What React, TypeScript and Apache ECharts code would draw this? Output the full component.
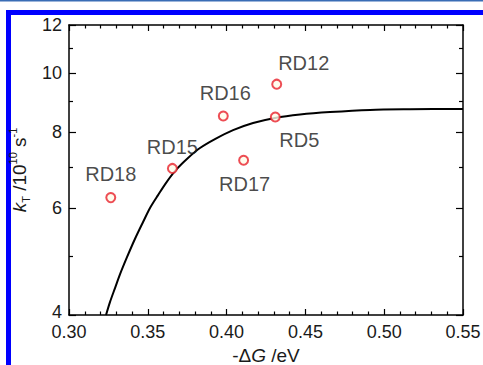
import React, { useEffect, useRef } from 'react';
import * as echarts from 'echarts';

// ---- data ----
const pointNames = ['RD18', 'RD15', 'RD16', 'RD17', 'RD12', 'RD5'];
const pointX = [0.3265, 0.3656, 0.3979, 0.4108, 0.4318, 0.4309];
const pointY = [6.24, 6.97, 8.5, 7.19, 9.59, 8.47];

const curveX = [0.3235, 0.326, 0.3292, 0.3324, 0.3368, 0.3419, 0.347, 0.3514, 0.3565, 0.3616, 0.3679, 0.3755, 0.3831, 0.3926, 0.4041, 0.4168, 0.4307, 0.4466, 0.4656, 0.491, 0.5164, 0.55];
const curveY = [4.0, 4.2, 4.43, 4.67, 4.98, 5.34, 5.69, 6.0, 6.3, 6.6, 6.93, 7.25, 7.53, 7.79, 8.06, 8.28, 8.44, 8.55, 8.63, 8.7, 8.72, 8.73];

const xMin = 0.3;
const xMax = 0.55;
const xInterval = 0.05;
const yMajorTicks = [4, 6, 8, 10, 12];
const yMinorTicks = [5, 7, 9, 11];

// label placement (style, not data)
const labelOffsets: Record<string, [number, number]> = {
  RD18: [0, -24],
  RD15: [0, -21],
  RD16: [2, -23],
  RD17: [1, 24],
  RD12: [27, -21],
  RD5: [24, 23],
};

const FONT = '"Liberation Sans", Arial, Helvetica, sans-serif';
const TXT = '#1a1a1a';

export default function App() {
  const ref = useRef<HTMLDivElement>(null);

  useEffect(() => {
    if (!ref.current) return;
    const chart = echarts.init(ref.current, undefined, { renderer: 'svg' });
    const lg = (v: number) => Math.log10(v);
    const yMin = lg(yMajorTicks[0]);
    const yMax = lg(yMajorTicks[yMajorTicks.length - 1]);
    const axisLine = { show: true, lineStyle: { color: '#000', width: 1.5 } };

    const xBase = {
      type: 'value' as const,
      min: xMin,
      max: xMax,
      interval: xInterval,
      splitLine: { show: false },
      axisLine,
      axisTick: { show: true, inside: true, length: 6, lineStyle: { color: '#000', width: 1.2 } },
      minorTick: { show: true, splitNumber: 5, length: 3.5, lineStyle: { color: '#000', width: 1.2 } },
    };
    const yBase = {
      type: 'value' as const,
      min: yMin,
      max: yMax,
      splitLine: { show: false },
    };

    chart.setOption({
      animation: false,
      backgroundColor: '#fff',
      textStyle: { fontFamily: FONT },
      grid: { left: 69, right: 20, top: 25, bottom: 50, containLabel: false, outerBoundsMode: 'none' },
      graphic: [
        { type: 'rect', shape: { x: 0, y: 0, width: 483, height: 1.5 }, style: { fill: '#3a6db5' } },
        { type: 'rect', shape: { x: 6, y: 10, width: 477, height: 5 }, style: { fill: '#0000ff' } },
        { type: 'rect', shape: { x: 6, y: 10, width: 5, height: 355 }, style: { fill: '#0000ff' } },
      ],
      xAxis: [
        {
          ...xBase,
          position: 'bottom',
          name: '{n|-Δ}{i|G}{n| /eV}',
          nameLocation: 'middle',
          nameGap: 29,
          nameTextStyle: {
            rich: {
              n: { fontSize: 19, color: TXT, fontFamily: FONT },
              i: { fontSize: 19, color: TXT, fontStyle: 'italic', fontFamily: FONT },
            },
          },
          axisLabel: {
            show: true,
            fontSize: 18,
            color: TXT,
            margin: 8,
            formatter: (v: number) => v.toFixed(2),
          },
        },
        {
          ...xBase,
          position: 'top',
          axisLabel: { show: false },
        },
      ],
      yAxis: [
        {
          ...yBase,
          position: 'left',
          axisLine,
          axisTick: { show: true, inside: true, length: 7, customValues: yMajorTicks.map(lg), lineStyle: { color: '#000', width: 1.2 } },
          axisLabel: {
            show: true,
            fontSize: 18,
            color: TXT,
            margin: 7,
            customValues: yMajorTicks.map(lg),
            formatter: (v: number) => {
              const n = Math.round(Math.pow(10, v));
              return n === yMajorTicks[0] ? `{lo|${n}}` : String(n);
            },
            rich: {
              lo: { fontSize: 18, color: TXT, lineHeight: 18, padding: [0, 0, 6, 0], fontFamily: FONT },
            },
          },
          name: '{k|k}{sub|T}{n| /10}{sup|10}{n| s}{sup|-1}',
          nameLocation: 'middle',
          nameGap: 25,
          nameTextStyle: {
            rich: {
              k: { fontSize: 19, fontStyle: 'italic', color: TXT, lineHeight: 24, verticalAlign: 'middle', fontFamily: FONT },
              n: { fontSize: 19, color: TXT, lineHeight: 24, verticalAlign: 'middle', fontFamily: FONT },
              sub: { fontSize: 11, color: TXT, lineHeight: 24, verticalAlign: 'bottom', fontFamily: FONT },
              sup: { fontSize: 11, color: TXT, lineHeight: 24, verticalAlign: 'top', fontFamily: FONT },
            },
          },
        },
        {
          ...yBase,
          position: 'left',
          axisLine: { show: false },
          axisTick: { show: true, inside: true, length: 4, customValues: yMinorTicks.map(lg), lineStyle: { color: '#000', width: 1.2 } },
          axisLabel: { show: false },
        },
        {
          ...yBase,
          position: 'right',
          axisLine,
          axisTick: { show: true, inside: true, length: 7, customValues: yMajorTicks.map(lg), lineStyle: { color: '#000', width: 1.2 } },
          axisLabel: { show: false },
        },
        {
          ...yBase,
          position: 'right',
          axisLine: { show: false },
          axisTick: { show: true, inside: true, length: 4, customValues: yMinorTicks.map(lg), lineStyle: { color: '#000', width: 1.2 } },
          axisLabel: { show: false },
        },
      ],
      series: [
        {
          type: 'line',
          xAxisIndex: 0,
          yAxisIndex: 0,
          data: curveX.map((x, i) => [x, lg(curveY[i])]),
          smooth: 0.3,
          showSymbol: false,
          symbol: 'none',
          lineStyle: { color: '#000', width: 2 },
          silent: true,
          z: 2,
        },
        {
          type: 'scatter',
          xAxisIndex: 0,
          yAxisIndex: 0,
          symbol: 'circle',
          symbolSize: 9,
          itemStyle: { color: '#fffbe8', borderColor: '#e8202a', borderWidth: 2 },
          z: 3,
          data: pointNames.map((n, i) => ({
            name: n,
            value: [pointX[i], lg(pointY[i])],
            label: {
              show: true,
              position: 'inside',
              offset: labelOffsets[n],
              formatter: n,
              fontSize: 20,
              color: TXT,
              fontFamily: FONT,
            },
          })),
        },
      ],
    });
    return () => chart.dispose();
  }, []);

  return (
    <div
      ref={ref}
      style={{ position: 'fixed', left: 0, top: 0, width: 483, height: 365, background: '#fff' }}
    />
  );
}
